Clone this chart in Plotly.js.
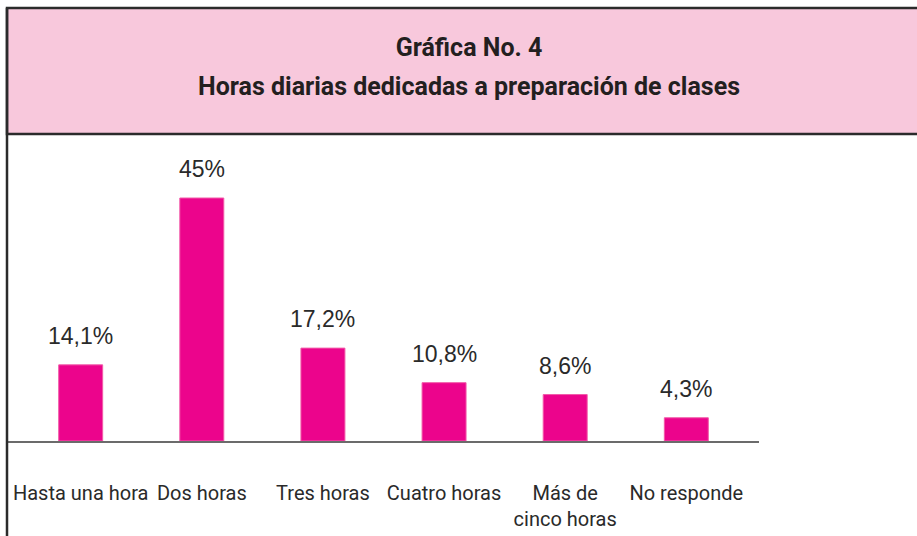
<!DOCTYPE html>
<html>
<head>
<meta charset="utf-8">
<script src="https://cdn.plot.ly/plotly-3.0.1.min.js"></script>
<style>html,body{margin:0;padding:0;background:#fff;}#chart{width:917px;height:536px;}</style>
</head>
<body>
<div id="chart"></div>
<script>
const categories = ["Hasta una hora", "Dos horas", "Tres horas", "Cuatro horas", "Más de<br>cinco horas", "No responde"];
const values = [14.1, 45, 17.2, 10.8, 8.6, 4.3];
const valueLabels = ["14,1%", "45%", "17,2%", "10,8%", "8,6%", "4,3%"];
const titleLines = ["Gráfica No. 4", "Horas diarias dedicadas a preparación de clases"];

const W = 917, H = 536;
const mL = 8, mR = 158, mT = 144, mB = 95;
const pw = W - mL - mR, ph = H - mT - mB;
const px = v => (v - mL) / pw;
const py = v => (H - mB - v) / ph;

const titleFont = {family: 'Roboto, "Liberation Sans", Arial, sans-serif', size: 25, color: '#231f20', weight: 'bold'};

const trace = {
  type: 'bar',
  x: categories,
  y: values,
  marker: {color: '#EC048C', line: {color: '#F25AA8', width: 1}},
  width: 0.363,
  hoverinfo: 'none'
};

const annotations = categories.map((c, i) => ({
  x: c, y: values[i], xref: 'x', yref: 'y',
  text: valueLabels[i], showarrow: false,
  yanchor: 'bottom', yshift: 14,
  font: {family: '"Liberation Sans", Arial, sans-serif', size: 23, color: '#2a2a2a'}
}));

annotations.push({
  xref: 'paper', yref: 'paper', x: px(469), y: py(86),
  xanchor: 'center', yanchor: 'middle', showarrow: false,
  text: titleLines[1], font: titleFont
});

const layout = {
  width: W, height: H,
  margin: {l: mL, r: mR, t: mT, b: mB, pad: 0},
  paper_bgcolor: '#ffffff', plot_bgcolor: 'rgba(0,0,0,0)',
  showlegend: false,
  title: {
    text: titleLines[0],
    x: 469 / W, xanchor: 'center', xref: 'container',
    y: 1 - 47 / H, yanchor: 'middle', yref: 'container',
    font: titleFont
  },
  xaxis: {
    type: 'category',
    range: [-0.6, 5.6],
    showline: true, linecolor: '#6b6b6b', linewidth: 1.5,
    showgrid: false, zeroline: false, ticks: '',
    tickangle: 0,
    ticklabelstandoff: 33,
    tickfont: {family: 'Roboto, "Liberation Sans", Arial, sans-serif', size: 20, color: '#2a2a2a'},
    fixedrange: true
  },
  yaxis: {
    range: [0, ph / 5.4],
    visible: false, showgrid: false, zeroline: false, fixedrange: true
  },
  shapes: [
    {type: 'rect', xref: 'paper', yref: 'paper', layer: 'below',
     x0: px(7), x1: px(940), y0: py(8), y1: py(134),
     fillcolor: '#F8C8DC', line: {color: '#2b2b2b', width: 2.5}},
    {type: 'line', xref: 'paper', yref: 'paper', layer: 'above',
     x0: px(7), x1: px(7), y0: py(8), y1: py(560),
     line: {color: '#2b2b2b', width: 2.5}}
  ],
  annotations: annotations
};

Plotly.newPlot('chart', [trace], layout, {displayModeBar: false, staticPlot: true});
</script>
</body>
</html>
